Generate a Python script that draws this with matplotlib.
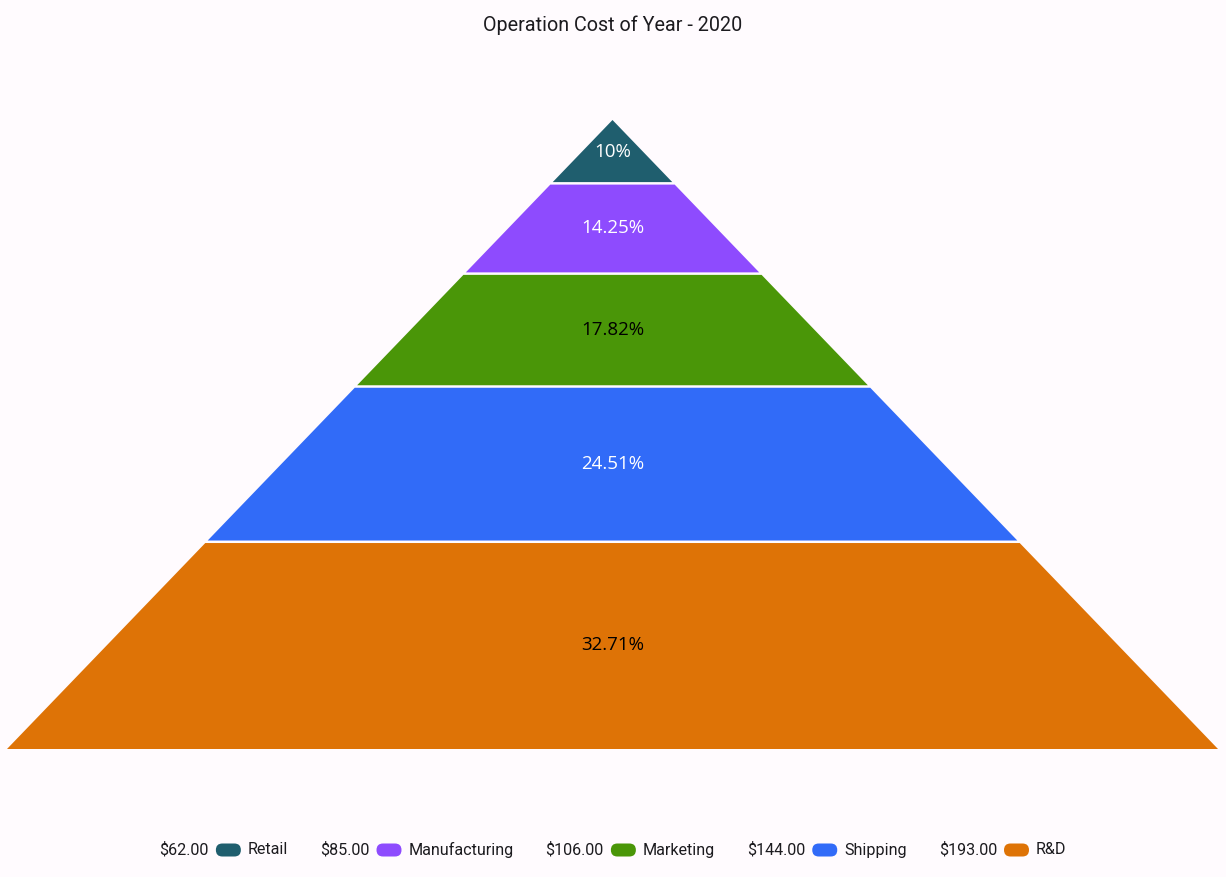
import matplotlib.pyplot as plt
from matplotlib.patches import Polygon, FancyBboxPatch

# Chart data
categories = ['Retail', 'Manufacturing', 'Marketing', 'Shipping', 'R&D']
costs = [62, 85, 106, 144, 193]
percent_labels = ['10%', '14.25%', '17.82%', '24.51%', '32.71%']
percent_values = [10, 14.25, 17.82, 24.51, 32.71]
colors = ['#1F5E6E', '#8E4BFE', '#4A9608', '#316BF8', '#DE7306']
label_colors = ['white', 'white', 'black', 'white', 'black']

# Layout (pixels)
W, H = 1226, 877
bg = '#FFFBFE'
apex_x, apex_y = 612.5, 120
base_y = 749
half_base = 605.5
gap = 2.5

fig = plt.figure(figsize=(W / 100, H / 100), dpi=100, facecolor=bg)
ax = fig.add_axes([0, 0, 1, 1])
ax.set_xlim(0, W)
ax.set_ylim(H, 0)
ax.axis('off')
ax.set_facecolor(bg)

total = sum(percent_values)
height = base_y - apex_y
slope = half_base / height


def half_width(y):
    return (y - apex_y) * slope


top = apex_y
for i, p in enumerate(percent_values):
    bottom = top + height * p / total
    y0 = top + (gap / 2 if i > 0 else 0)
    y1 = bottom - (gap / 2 if i < len(percent_values) - 1 else 0)
    w0, w1 = half_width(y0), half_width(y1)
    pts = [(apex_x - w0, y0), (apex_x + w0, y0), (apex_x + w1, y1), (apex_x - w1, y1)]
    ax.add_patch(Polygon(pts, closed=True, facecolor=colors[i], edgecolor='none'))
    ax.text(apex_x, (top + bottom) / 2, percent_labels[i], ha='center', va='center',
            fontsize=13.5, family='Open Sans', color=label_colors[i])
    top = bottom

ax.text(apex_x, 25, 'Operation Cost of Year - 2020', ha='center', va='center',
        fontsize=14.2, family='Roboto', color='#1C1B1F')

# Legend, laid out by measured text widths
fig.canvas.draw()
renderer = fig.canvas.get_renderer()
leg_y = 850
fs = 11.6
marker_w, marker_h = 25, 13
pad = 7
item_gap = 32


def text_width(s):
    t = ax.text(0, 0, s, fontsize=fs, family='Roboto')
    w = t.get_window_extent(renderer).width
    t.remove()
    return w


items = []
total_w = 0
for c, name in zip(costs, categories):
    vw = text_width(f'${c:.2f}')
    nw = text_width(name)
    items.append((f'${c:.2f}', vw, name, nw))
    total_w += vw + pad + marker_w + pad + nw
total_w += item_gap * (len(items) - 1)

x = W / 2 - total_w / 2
for (vs, vw, name, nw), col in zip(items, colors):
    ax.text(x, leg_y, vs, fontsize=fs, family='Roboto', va='center', color='#1C1B1F')
    x += vw + pad
    ax.add_patch(FancyBboxPatch((x, leg_y - marker_h / 2), marker_w, marker_h,
                                boxstyle='round,pad=0,rounding_size=6.5',
                                facecolor=col, edgecolor='none'))
    x += marker_w + pad
    ax.text(x, leg_y, name, fontsize=fs, family='Roboto', va='center', color='#1C1B1F')
    x += nw + item_gap

fig.savefig('out.png', dpi=100, facecolor=bg)
